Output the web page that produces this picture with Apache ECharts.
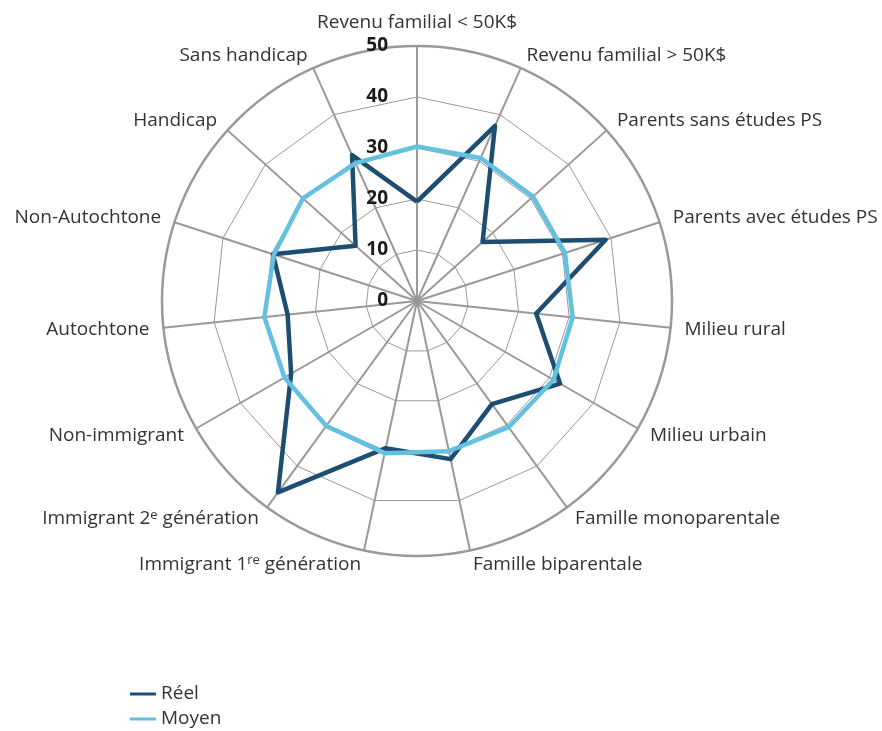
<!DOCTYPE html>
<html>
<head>
<meta charset="utf-8">
<script src="https://cdn.jsdelivr.net/npm/echarts@6/dist/echarts.min.js"></script>
<style>
  html, body { margin: 0; padding: 0; background: #fff; }
  #chart { width: 882px; height: 731px; }
</style>
</head>
<body>
<div id="chart"></div>
<script type="text/javascript">
// catégories (sens horaire depuis le haut)
var categories = [
  "Revenu familial < 50K$",
  "Revenu familial > 50K$",
  "Parents sans études PS",
  "Parents avec études PS",
  "Milieu rural",
  "Milieu urbain",
  "Famille monoparentale",
  "Famille biparentale",
  "Immigrant 1re génération",
  "Immigrant 2e génération",
  "Non-immigrant",
  "Autochtone",
  "Non-Autochtone",
  "Handicap",
  "Sans handicap"
];
var reel = [19.5, 37.6, 17.3, 38.9, 23.5, 32.4, 25, 31.7, 29.5, 46.4, 28.5, 25.5, 29.7, 16.2, 31.3];
var moyen = [30.3, 30.7, 30.6, 30.5, 30.7, 30.9, 30.6, 30.1, 30.5, 30.3, 30, 30.1, 29.5, 30.1, 29.6];
var seriesNames = ["Réel", "Moyen"];
var maxValue = 50;
var tickStep = 10;

var center = [417, 301];
var radius = 255;
var gridColor = "#999999";
var textColor = "#333333";
var fontFamily = "'Open Sans', 'Noto Sans', sans-serif";

// le radar d'echarts tourne dans le sens anti-horaire : on inverse l'ordre après le premier axe
function clockwise(arr) {
  return [arr[0]].concat(arr.slice(1).reverse());
}

// exposants : 2e, 1re
function supName(name) {
  return name.replace(" 2e ", " 2{sup|e} ").replace(" 1re ", " 1{sup|re} ");
}

var myChart = echarts.init(document.getElementById("chart"));

var option = {
  animation: false,
  color: ["#1d4e72", "#63c0e0"],
  textStyle: { fontFamily: fontFamily },
  legend: {
    data: seriesNames,
    orient: "vertical",
    left: 130,
    top: 684,
    padding: 0,
    itemGap: 5,
    icon: "rect",
    itemWidth: 26,
    itemHeight: 3,
    textStyle: { fontSize: 19, lineHeight: 20, color: textColor, fontFamily: fontFamily }
  },
  // cercle extérieur + graduations 0..50
  polar: { center: center, radius: radius },
  angleAxis: {
    type: "value",
    startAngle: 90,
    min: 0,
    max: 360,
    axisLine: { show: true, lineStyle: { color: gridColor, width: 2.5 } },
    axisTick: { show: false },
    axisLabel: { show: false },
    splitLine: { show: false }
  },
  radiusAxis: {
    type: "value",
    min: 0,
    max: maxValue,
    interval: tickStep,
    axisLine: { show: false },
    axisTick: { show: false },
    splitLine: { show: false },
    axisLabel: {
      fontSize: 19,
      fontWeight: "bold",
      color: "#1a1a1a",
      fontFamily: fontFamily,
      margin: 29
    },
    z: 10
  },
  radar: {
    center: center,
    radius: radius,
    startAngle: 90,
    shape: "polygon",
    splitNumber: 5,
    indicator: clockwise(categories).map(function (c) {
      return { name: c, min: 0, max: maxValue };
    }),
    axisName: {
      color: textColor,
      fontSize: 19,
      fontFamily: fontFamily,
      formatter: function (name) { return supName(name); },
      rich: {
        sup: { fontSize: 13, verticalAlign: "top", color: textColor, padding: [0, 0, 7, 0] }
      }
    },
    nameGap: 14,
    axisLine: { lineStyle: { color: gridColor, width: 2 } },
    splitLine: {
      // pas d'anneau polygonal à 50 (le cercle le remplace)
      lineStyle: { color: [gridColor, gridColor, gridColor, gridColor, gridColor, "rgba(0,0,0,0)"], width: 1 }
    },
    splitArea: { show: false }
  },
  series: [
    {
      type: "radar",
      symbol: "none",
      lineStyle: { width: 4.5 },
      z: 5,
      data: [
        { name: seriesNames[0], value: clockwise(reel) },
        { name: seriesNames[1], value: clockwise(moyen) }
      ]
    }
  ]
};

window.onresize = myChart.resize;
myChart.setOption(option);
</script>
</body>
</html>
